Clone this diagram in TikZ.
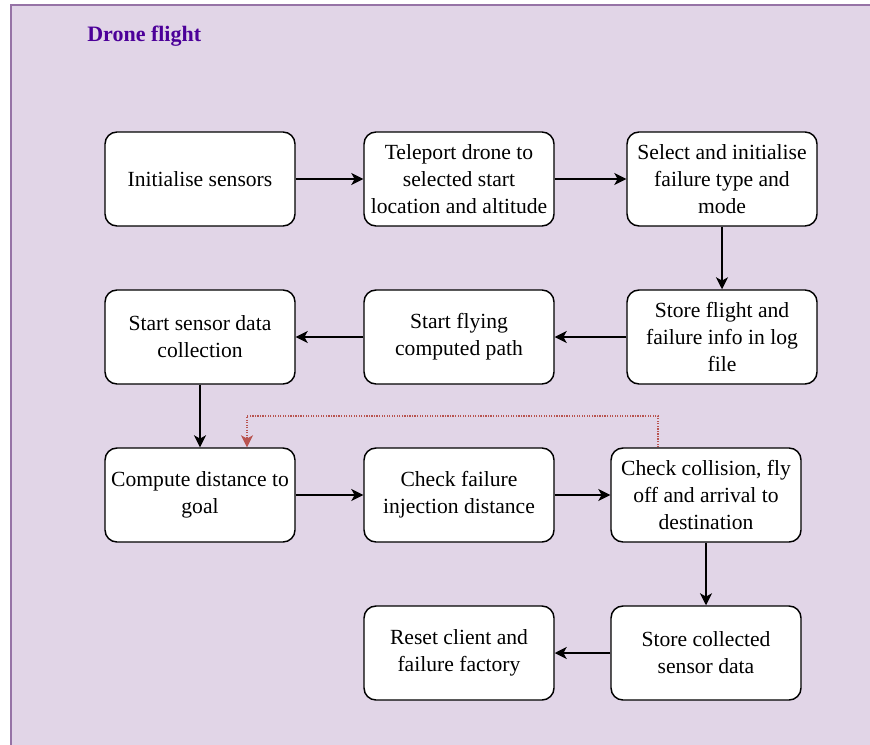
\documentclass[tikz,border=0pt]{standalone}
\usepackage{fontspec}
\setmainfont{Liberation Serif}
\usetikzlibrary{arrows.meta}
\definecolor{panelfill}{HTML}{E1D5E7}
\definecolor{panelline}{HTML}{9673A6}
\definecolor{titlecol}{HTML}{4C0099}
\definecolor{loopcol}{HTML}{B85450}
\begin{document}
\begin{tikzpicture}[x=0.75pt,y=-0.75pt,
  stepbox/.style={draw=black,fill=white,line width=1.1pt,rounded corners=9pt,
    minimum width=142.5pt,minimum height=70.5pt,
    align=center,inner sep=0pt,font=\fontsize{16.2}{20.25}\selectfont},
  flow/.style={-{Stealth[length=9pt,width=9pt,inset=2.5pt]},line width=1.1pt,draw=black},
  loop/.style={-{Stealth[length=9pt,width=9pt,inset=2.5pt,fill=loopcol]},line width=0.9pt,
    draw=loopcol,densely dotted}]
\useasboundingbox (0,0) rectangle (870,745);
% panel
\fill[panelfill] (10,5) rectangle (875,750);
\draw[panelline,line width=1.5pt] (10.5,750) -- (10.5,5.5) -- (875,5.5);
\node[anchor=west,inner sep=0pt,text=titlecol,font=\fontsize{16.5}{18}\selectfont\bfseries] (title) at (87,36) {Drone flight};
% boxes
\node[stepbox] (a) at (200,179) {Initialise sensors};
\node[stepbox] (b) at (459,179) {Teleport drone to\\selected start\\location and altitude};
\node[stepbox] (c) at (722,179) {Select and initialise\\failure type and\\mode};
\node[stepbox] (d) at (200,337) {Start sensor data\\collection};
\node[stepbox] (e) at (459,337) {Start flying\\computed path};
\node[stepbox] (f) at (722,337) {Store flight and\\failure info in log\\file};
\node[stepbox] (g) at (200,495) {Compute distance to\\goal};
\node[stepbox] (h) at (459,495) {Check failure\\injection distance};
\node[stepbox] (i) at (706,495) {Check collision, fly\\off and arrival to\\destination};
\node[stepbox] (j) at (459,653) {Reset client and\\failure factory};
\node[stepbox] (k) at (706,653) {Store collected\\sensor data};
% connectors
\draw[flow] (a) -- (b);
\draw[flow] (b) -- (c);
\draw[flow] (c) -- (f);
\draw[flow] (f) -- (e);
\draw[flow] (e) -- (d);
\draw[flow] (d) -- (g);
\draw[flow] (g) -- (h);
\draw[flow] (h) -- (i);
\draw[flow] (i) -- (k);
\draw[flow] (k) -- (j);
% feedback loop
\draw[loop] (i.north -| 658,0) -- (658,416) -- (247,416) -- (g.north -| 247,0);
\end{tikzpicture}
\end{document}
